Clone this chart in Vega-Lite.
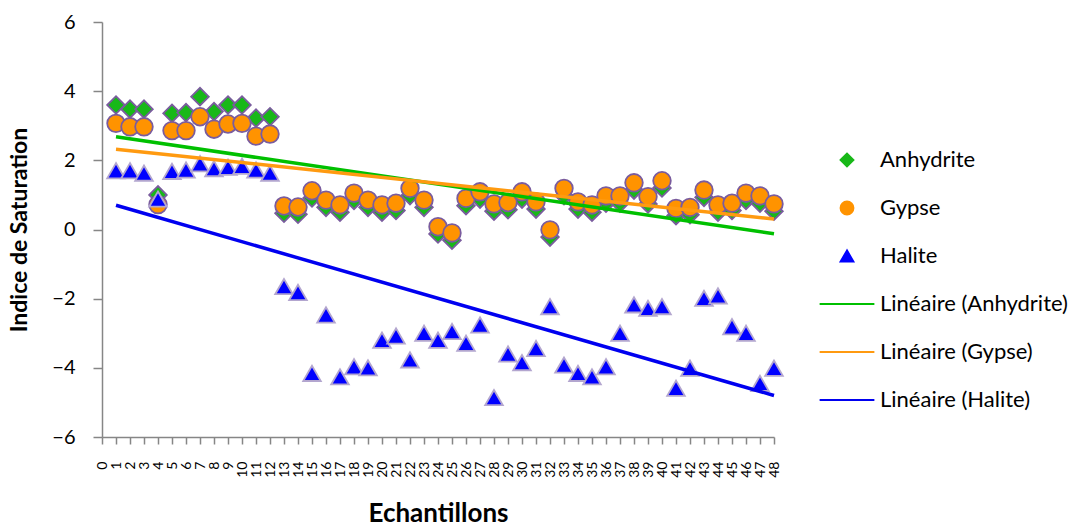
{
  "$schema": "https://vega.github.io/schema/vega-lite/v6.json",
  "width": 672,
  "height": 415,
  "autosize": {"type": "none"},
  "padding": {"left": 102, "top": 22, "right": 299, "bottom": 93},
  "background": "white",
  "config": {
    "view": {"stroke": null},
    "font": "Lato",
    "axis": {"labelFont": "Lato", "titleFont": "Lato", "labelColor": "#000000", "titleColor": "#000000", "domainColor": "#868686", "tickColor": "#868686", "domainWidth": 1.5, "tickWidth": 1.5, "grid": false}
  },
  "datasets": {
    "rows": [
      {"x":1,"series":"Anhydrite","trend":"Linéaire (Anhydrite)","v":3.6},
      {"x":2,"series":"Anhydrite","trend":"Linéaire (Anhydrite)","v":3.48},
      {"x":3,"series":"Anhydrite","trend":"Linéaire (Anhydrite)","v":3.48},
      {"x":4,"series":"Anhydrite","trend":"Linéaire (Anhydrite)","v":1.0},
      {"x":5,"series":"Anhydrite","trend":"Linéaire (Anhydrite)","v":3.36},
      {"x":6,"series":"Anhydrite","trend":"Linéaire (Anhydrite)","v":3.38},
      {"x":7,"series":"Anhydrite","trend":"Linéaire (Anhydrite)","v":3.84},
      {"x":8,"series":"Anhydrite","trend":"Linéaire (Anhydrite)","v":3.41},
      {"x":9,"series":"Anhydrite","trend":"Linéaire (Anhydrite)","v":3.6},
      {"x":10,"series":"Anhydrite","trend":"Linéaire (Anhydrite)","v":3.6},
      {"x":11,"series":"Anhydrite","trend":"Linéaire (Anhydrite)","v":3.22},
      {"x":12,"series":"Anhydrite","trend":"Linéaire (Anhydrite)","v":3.26},
      {"x":13,"series":"Anhydrite","trend":"Linéaire (Anhydrite)","v":0.47},
      {"x":14,"series":"Anhydrite","trend":"Linéaire (Anhydrite)","v":0.44},
      {"x":15,"series":"Anhydrite","trend":"Linéaire (Anhydrite)","v":0.91},
      {"x":16,"series":"Anhydrite","trend":"Linéaire (Anhydrite)","v":0.64},
      {"x":17,"series":"Anhydrite","trend":"Linéaire (Anhydrite)","v":0.5},
      {"x":18,"series":"Anhydrite","trend":"Linéaire (Anhydrite)","v":0.84},
      {"x":19,"series":"Anhydrite","trend":"Linéaire (Anhydrite)","v":0.64},
      {"x":20,"series":"Anhydrite","trend":"Linéaire (Anhydrite)","v":0.5},
      {"x":21,"series":"Anhydrite","trend":"Linéaire (Anhydrite)","v":0.55},
      {"x":22,"series":"Anhydrite","trend":"Linéaire (Anhydrite)","v":0.98},
      {"x":23,"series":"Anhydrite","trend":"Linéaire (Anhydrite)","v":0.64},
      {"x":24,"series":"Anhydrite","trend":"Linéaire (Anhydrite)","v":-0.13},
      {"x":25,"series":"Anhydrite","trend":"Linéaire (Anhydrite)","v":-0.31},
      {"x":26,"series":"Anhydrite","trend":"Linéaire (Anhydrite)","v":0.69},
      {"x":27,"series":"Anhydrite","trend":"Linéaire (Anhydrite)","v":0.88},
      {"x":28,"series":"Anhydrite","trend":"Linéaire (Anhydrite)","v":0.53},
      {"x":29,"series":"Anhydrite","trend":"Linéaire (Anhydrite)","v":0.57},
      {"x":30,"series":"Anhydrite","trend":"Linéaire (Anhydrite)","v":0.88},
      {"x":31,"series":"Anhydrite","trend":"Linéaire (Anhydrite)","v":0.59},
      {"x":32,"series":"Anhydrite","trend":"Linéaire (Anhydrite)","v":-0.22},
      {"x":33,"series":"Anhydrite","trend":"Linéaire (Anhydrite)","v":0.98},
      {"x":34,"series":"Anhydrite","trend":"Linéaire (Anhydrite)","v":0.59},
      {"x":35,"series":"Anhydrite","trend":"Linéaire (Anhydrite)","v":0.5},
      {"x":36,"series":"Anhydrite","trend":"Linéaire (Anhydrite)","v":0.76},
      {"x":37,"series":"Anhydrite","trend":"Linéaire (Anhydrite)","v":0.76},
      {"x":38,"series":"Anhydrite","trend":"Linéaire (Anhydrite)","v":1.14},
      {"x":39,"series":"Anhydrite","trend":"Linéaire (Anhydrite)","v":0.74},
      {"x":40,"series":"Anhydrite","trend":"Linéaire (Anhydrite)","v":1.2},
      {"x":41,"series":"Anhydrite","trend":"Linéaire (Anhydrite)","v":0.4},
      {"x":42,"series":"Anhydrite","trend":"Linéaire (Anhydrite)","v":0.43},
      {"x":43,"series":"Anhydrite","trend":"Linéaire (Anhydrite)","v":0.93},
      {"x":44,"series":"Anhydrite","trend":"Linéaire (Anhydrite)","v":0.5},
      {"x":45,"series":"Anhydrite","trend":"Linéaire (Anhydrite)","v":0.55},
      {"x":46,"series":"Anhydrite","trend":"Linéaire (Anhydrite)","v":0.84},
      {"x":47,"series":"Anhydrite","trend":"Linéaire (Anhydrite)","v":0.76},
      {"x":48,"series":"Anhydrite","trend":"Linéaire (Anhydrite)","v":0.53},
      {"x":1,"series":"Gypse","trend":"Linéaire (Gypse)","v":3.07},
      {"x":2,"series":"Gypse","trend":"Linéaire (Gypse)","v":2.97},
      {"x":3,"series":"Gypse","trend":"Linéaire (Gypse)","v":2.97},
      {"x":4,"series":"Gypse","trend":"Linéaire (Gypse)","v":0.72},
      {"x":5,"series":"Gypse","trend":"Linéaire (Gypse)","v":2.86},
      {"x":6,"series":"Gypse","trend":"Linéaire (Gypse)","v":2.86},
      {"x":7,"series":"Gypse","trend":"Linéaire (Gypse)","v":3.26},
      {"x":8,"series":"Gypse","trend":"Linéaire (Gypse)","v":2.9},
      {"x":9,"series":"Gypse","trend":"Linéaire (Gypse)","v":3.05},
      {"x":10,"series":"Gypse","trend":"Linéaire (Gypse)","v":3.07},
      {"x":11,"series":"Gypse","trend":"Linéaire (Gypse)","v":2.7},
      {"x":12,"series":"Gypse","trend":"Linéaire (Gypse)","v":2.76},
      {"x":13,"series":"Gypse","trend":"Linéaire (Gypse)","v":0.68},
      {"x":14,"series":"Gypse","trend":"Linéaire (Gypse)","v":0.65},
      {"x":15,"series":"Gypse","trend":"Linéaire (Gypse)","v":1.12},
      {"x":16,"series":"Gypse","trend":"Linéaire (Gypse)","v":0.85},
      {"x":17,"series":"Gypse","trend":"Linéaire (Gypse)","v":0.71},
      {"x":18,"series":"Gypse","trend":"Linéaire (Gypse)","v":1.05},
      {"x":19,"series":"Gypse","trend":"Linéaire (Gypse)","v":0.85},
      {"x":20,"series":"Gypse","trend":"Linéaire (Gypse)","v":0.71},
      {"x":21,"series":"Gypse","trend":"Linéaire (Gypse)","v":0.76},
      {"x":22,"series":"Gypse","trend":"Linéaire (Gypse)","v":1.19},
      {"x":23,"series":"Gypse","trend":"Linéaire (Gypse)","v":0.85},
      {"x":24,"series":"Gypse","trend":"Linéaire (Gypse)","v":0.08},
      {"x":25,"series":"Gypse","trend":"Linéaire (Gypse)","v":-0.1},
      {"x":26,"series":"Gypse","trend":"Linéaire (Gypse)","v":0.9},
      {"x":27,"series":"Gypse","trend":"Linéaire (Gypse)","v":1.09},
      {"x":28,"series":"Gypse","trend":"Linéaire (Gypse)","v":0.74},
      {"x":29,"series":"Gypse","trend":"Linéaire (Gypse)","v":0.78},
      {"x":30,"series":"Gypse","trend":"Linéaire (Gypse)","v":1.09},
      {"x":31,"series":"Gypse","trend":"Linéaire (Gypse)","v":0.8},
      {"x":32,"series":"Gypse","trend":"Linéaire (Gypse)","v":-0.01},
      {"x":33,"series":"Gypse","trend":"Linéaire (Gypse)","v":1.19},
      {"x":34,"series":"Gypse","trend":"Linéaire (Gypse)","v":0.8},
      {"x":35,"series":"Gypse","trend":"Linéaire (Gypse)","v":0.71},
      {"x":36,"series":"Gypse","trend":"Linéaire (Gypse)","v":0.97},
      {"x":37,"series":"Gypse","trend":"Linéaire (Gypse)","v":0.97},
      {"x":38,"series":"Gypse","trend":"Linéaire (Gypse)","v":1.35},
      {"x":39,"series":"Gypse","trend":"Linéaire (Gypse)","v":0.95},
      {"x":40,"series":"Gypse","trend":"Linéaire (Gypse)","v":1.41},
      {"x":41,"series":"Gypse","trend":"Linéaire (Gypse)","v":0.61},
      {"x":42,"series":"Gypse","trend":"Linéaire (Gypse)","v":0.64},
      {"x":43,"series":"Gypse","trend":"Linéaire (Gypse)","v":1.14},
      {"x":44,"series":"Gypse","trend":"Linéaire (Gypse)","v":0.71},
      {"x":45,"series":"Gypse","trend":"Linéaire (Gypse)","v":0.76},
      {"x":46,"series":"Gypse","trend":"Linéaire (Gypse)","v":1.05},
      {"x":47,"series":"Gypse","trend":"Linéaire (Gypse)","v":0.97},
      {"x":48,"series":"Gypse","trend":"Linéaire (Gypse)","v":0.74},
      {"x":1,"series":"Halite","trend":"Linéaire (Halite)","v":1.7},
      {"x":2,"series":"Halite","trend":"Linéaire (Halite)","v":1.7},
      {"x":3,"series":"Halite","trend":"Linéaire (Halite)","v":1.63},
      {"x":4,"series":"Halite","trend":"Linéaire (Halite)","v":0.88},
      {"x":5,"series":"Halite","trend":"Linéaire (Halite)","v":1.68},
      {"x":6,"series":"Halite","trend":"Linéaire (Halite)","v":1.72},
      {"x":7,"series":"Halite","trend":"Linéaire (Halite)","v":1.9},
      {"x":8,"series":"Halite","trend":"Linéaire (Halite)","v":1.76},
      {"x":9,"series":"Halite","trend":"Linéaire (Halite)","v":1.8},
      {"x":10,"series":"Halite","trend":"Linéaire (Halite)","v":1.83},
      {"x":11,"series":"Halite","trend":"Linéaire (Halite)","v":1.72},
      {"x":12,"series":"Halite","trend":"Linéaire (Halite)","v":1.63},
      {"x":13,"series":"Halite","trend":"Linéaire (Halite)","v":-1.65},
      {"x":14,"series":"Halite","trend":"Linéaire (Halite)","v":-1.82},
      {"x":15,"series":"Halite","trend":"Linéaire (Halite)","v":-4.16},
      {"x":16,"series":"Halite","trend":"Linéaire (Halite)","v":-2.47},
      {"x":17,"series":"Halite","trend":"Linéaire (Halite)","v":-4.26},
      {"x":18,"series":"Halite","trend":"Linéaire (Halite)","v":-3.97},
      {"x":19,"series":"Halite","trend":"Linéaire (Halite)","v":-4.0},
      {"x":20,"series":"Halite","trend":"Linéaire (Halite)","v":-3.2},
      {"x":21,"series":"Halite","trend":"Linéaire (Halite)","v":-3.08},
      {"x":22,"series":"Halite","trend":"Linéaire (Halite)","v":-3.77},
      {"x":23,"series":"Halite","trend":"Linéaire (Halite)","v":-3.0},
      {"x":24,"series":"Halite","trend":"Linéaire (Halite)","v":-3.2},
      {"x":25,"series":"Halite","trend":"Linéaire (Halite)","v":-2.95},
      {"x":26,"series":"Halite","trend":"Linéaire (Halite)","v":-3.29},
      {"x":27,"series":"Halite","trend":"Linéaire (Halite)","v":-2.76},
      {"x":28,"series":"Halite","trend":"Linéaire (Halite)","v":-4.86},
      {"x":29,"series":"Halite","trend":"Linéaire (Halite)","v":-3.6},
      {"x":30,"series":"Halite","trend":"Linéaire (Halite)","v":-3.85},
      {"x":31,"series":"Halite","trend":"Linéaire (Halite)","v":-3.44},
      {"x":32,"series":"Halite","trend":"Linéaire (Halite)","v":-2.23},
      {"x":33,"series":"Halite","trend":"Linéaire (Halite)","v":-3.92},
      {"x":34,"series":"Halite","trend":"Linéaire (Halite)","v":-4.16},
      {"x":35,"series":"Halite","trend":"Linéaire (Halite)","v":-4.26},
      {"x":36,"series":"Halite","trend":"Linéaire (Halite)","v":-3.97},
      {"x":37,"series":"Halite","trend":"Linéaire (Halite)","v":-3.0},
      {"x":38,"series":"Halite","trend":"Linéaire (Halite)","v":-2.18},
      {"x":39,"series":"Halite","trend":"Linéaire (Halite)","v":-2.28},
      {"x":40,"series":"Halite","trend":"Linéaire (Halite)","v":-2.23},
      {"x":41,"series":"Halite","trend":"Linéaire (Halite)","v":-4.59},
      {"x":42,"series":"Halite","trend":"Linéaire (Halite)","v":-4.01},
      {"x":43,"series":"Halite","trend":"Linéaire (Halite)","v":-1.99},
      {"x":44,"series":"Halite","trend":"Linéaire (Halite)","v":-1.92},
      {"x":45,"series":"Halite","trend":"Linéaire (Halite)","v":-2.81},
      {"x":46,"series":"Halite","trend":"Linéaire (Halite)","v":-3.0},
      {"x":47,"series":"Halite","trend":"Linéaire (Halite)","v":-4.45},
      {"x":48,"series":"Halite","trend":"Linéaire (Halite)","v":-4.01}
    ]
  },
  "data": {"name": "rows"},
  "encoding": {
    "x": {
      "field": "x", "type": "quantitative",
      "scale": {"domain": [0, 48], "nice": false, "zero": false},
      "axis": {
        "title": "Echantillons", "titleFontSize": 26, "titleFontWeight": "bold", "titlePadding": 23,
        "values": [0,1,2,3,4,5,6,7,8,9,10,11,12,13,14,15,16,17,18,19,20,21,22,23,24,25,26,27,28,29,30,31,32,33,34,35,36,37,38,39,40,41,42,43,44,45,46,47,48],
        "labelAngle": 270, "labelFontSize": 14, "labelPadding": 17, "labelOverlap": false, "labelFlush": false, "tickSize": 7
      }
    },
    "y": {
      "field": "v", "type": "quantitative",
      "scale": {"domain": [-6, 6], "nice": false},
      "axis": {
        "title": "Indice de Saturation", "titleFontSize": 23, "titleFontWeight": "bold", "titlePadding": 20,
        "values": [-6, -4, -2, 0, 2, 4, 6],
        "labelFontSize": 20, "labelPadding": 18, "tickSize": 9
      }
    }
  },
  "layer": [
    {
      "mark": {"type": "point", "filled": true, "size": 310, "opacity": 1},
      "encoding": {
        "color": {
          "field": "series", "type": "nominal",
          "scale": {
            "domain": ["Anhydrite", "Gypse", "Halite", "Linéaire (Anhydrite)", "Linéaire (Gypse)", "Linéaire (Halite)"],
            "range": ["#18b818", "#ff9300", "#0000ff", "#00c000", "#ff9a10", "#0000f0"]
          },
          "legend": {
            "orient": "none", "legendX": 734, "legendY": 127, "title": null, "padding": 0,
            "labelFont": "Lato", "labelFontSize": 22, "labelColor": "#000000", "labelLimit": 400,
            "symbolSize": 170, "symbolOpacity": 1, "symbolStrokeWidth": 3.5, "labelOffset": 22, "rowPadding": 26
          }
        },
        "shape": {
          "field": "series", "type": "nominal",
          "scale": {
            "domain": ["Anhydrite", "Gypse", "Halite", "Linéaire (Anhydrite)", "Linéaire (Gypse)", "Linéaire (Halite)"],
            "range": ["diamond", "circle", "triangle-up", "M-4.2,0H4.2", "M-4.2,0H4.2", "M-4.2,0H4.2"]
          },
          "legend": {"title": null}
        },
        "stroke": {
          "field": "series", "type": "nominal",
          "scale": {
            "domain": ["Anhydrite", "Gypse", "Halite", "Linéaire (Anhydrite)", "Linéaire (Gypse)", "Linéaire (Halite)"],
            "range": ["#7a5c9e", "#7a5c9e", "#b3a6cf", "#00c000", "#ff9a10", "#0000f0"]
          },
          "legend": {"title": null}
        },
        "strokeWidth": {
          "field": "series", "type": "nominal",
          "scale": {
            "domain": ["Anhydrite", "Gypse", "Halite", "Linéaire (Anhydrite)", "Linéaire (Gypse)", "Linéaire (Halite)"],
            "range": [1.8, 1.8, 1.8, 3.5, 3.5, 3.5]
          },
          "legend": {"title": null}
        }
      }
    },
    {
      "transform": [
        {"regression": "v", "on": "x", "groupby": ["trend"], "method": "linear"}
      ],
      "mark": {"type": "line", "strokeWidth": 3.5},
      "encoding": {
        "color": {"field": "trend", "type": "nominal", "legend": null}
      }
    }
  ]
}
